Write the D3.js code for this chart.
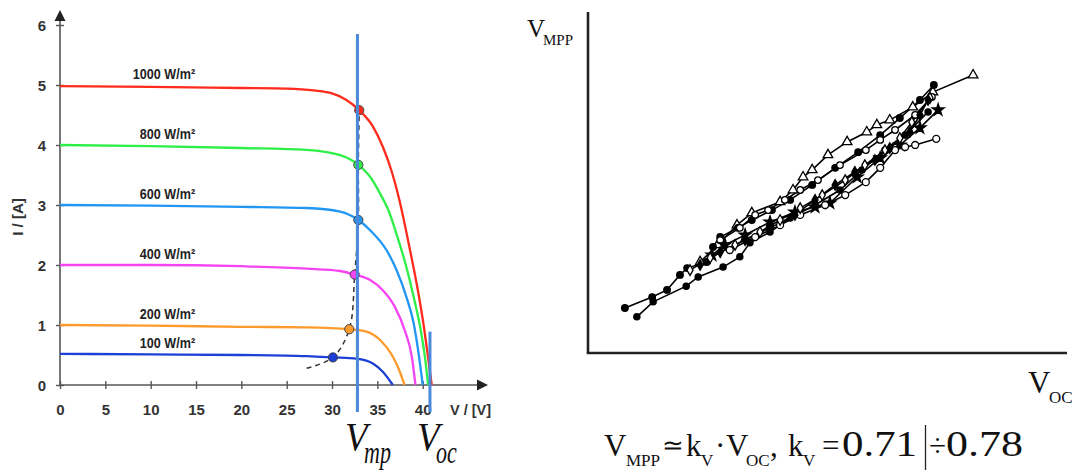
<!DOCTYPE html>
<html>
<head>
<meta charset="utf-8">
<script src="https://cdn.jsdelivr.net/npm/d3@7"></script>
<style>
  body { margin: 0; background: #fff; }
  svg { display: block; }
</style>
</head>
<body>
<svg id="chart" width="1072" height="470"></svg>
<script>
// ---------- I–V characteristic data (voltage in V, current in A) ----------
const irradianceLabels = ["1000 W/m²", "800 W/m²", "600 W/m²", "400 W/m²", "200 W/m²", "100 W/m²"];
const curveColors = ["#ff2b1c", "#2eef48", "#2196f3", "#f544f2", "#ff9a2c", "#1c3fd6"];
const shortCircuitI = [5.0, 4.0, 3.0, 2.0, 1.0, 0.52];

const v1000 = [0, 10, 20, 25, 28, 30, 31.5, 33.0, 34.5, 35.6, 36.6, 37.4, 38.1, 38.8, 39.5, 40.1, 40.6, 41.0];
const i1000 = [4.98, 4.97, 4.95, 4.94, 4.91, 4.86, 4.76, 4.58, 4.31, 3.97, 3.55, 3.10, 2.62, 2.10, 1.55, 1.00, 0.45, 0];
const v800  = [0, 10, 20, 27.2, 30.9, 32.9, 34.2, 35.3, 36.2, 37.1, 38.1, 39.0, 39.8, 40.3, 40.6];
const i800  = [4.0, 3.98, 3.95, 3.92, 3.83, 3.67, 3.47, 3.19, 2.92, 2.52, 2.02, 1.47, 0.90, 0.40, 0];
const v600  = [0, 10, 20, 27.2, 30.9, 32.9, 34.2, 36.0, 37.1, 38.2, 39.0, 39.6, 40.0];
const i600  = [3.0, 2.99, 2.97, 2.95, 2.89, 2.75, 2.58, 2.25, 1.92, 1.47, 1.03, 0.47, 0];
const v400  = [0, 10, 20, 27.2, 30.9, 32.5, 34.2, 35.6, 36.9, 38.0, 38.8, 39.2];
const i400  = [2.0, 2.0, 1.98, 1.94, 1.90, 1.84, 1.75, 1.58, 1.31, 0.92, 0.47, 0];
const v200  = [0, 10, 20, 27.2, 31.9, 33.8, 35.3, 36.6, 37.4, 38.0];
const i200  = [1.0, 0.99, 0.97, 0.96, 0.93, 0.89, 0.75, 0.50, 0.25, 0];
const v100  = [0, 10, 20, 27.2, 30.1, 32.7, 34.5, 35.6, 36.7];
const i100  = [0.52, 0.51, 0.50, 0.48, 0.46, 0.44, 0.36, 0.22, 0];

// maximum power points and the dashed locus through them
const mppV = [33.0, 32.9, 32.9, 32.5, 31.9, 30.1];
const mppI = [4.58, 3.67, 2.75, 1.84, 0.93, 0.46];
const locusV = [27.2, 30.1, 31.9, 32.5, 32.9, 32.9, 33.0];
const locusI = [0.28, 0.46, 0.93, 1.84, 2.75, 3.67, 4.58];

const xTicks = [0, 5, 10, 15, 20, 25, 30, 35, 40];
const yTicks = [0, 1, 2, 3, 4, 5, 6];
const vmpVolts = 32.8;
const vocVolts = 40.8;

// ---------- V_MPP versus V_OC tracks (relative units) ----------
const trackA_voc  = [23.4, 27.1, 31.1, 34.2, 40.1, 42.8, 44.9, 46.8, 50.1, 54.1, 58.2, 60.3, 63.0, 67.8, 72.0, 80.4];
const trackA_vmpp = [26.7, 31.7, 37.5, 41.1, 44.3, 47.8, 51.6, 53.7, 58.1, 61.9, 64.8, 66.9, 68.3, 72.1, 76.5, 81.5];
const trackB_voc  = [7.7, 13.4, 16.5, 19.2, 20.7, 24.8, 26.1, 27.6, 31.3, 34.2, 38.4, 42.2, 46.8, 51.6, 56.4, 61.0, 65.1, 69.3, 72.2];
const trackB_vmpp = [13.2, 16.4, 18.5, 22.9, 24.9, 26.7, 31.1, 34.0, 36.7, 39.0, 41.9, 44.9, 49.3, 54.3, 58.9, 63.9, 68.9, 74.2, 78.6];
const trackC_voc  = [10.2, 13.6, 20.5, 23.0, 28.2, 31.7, 33.8, 38.0, 42.2, 47.4, 52.6, 57.2, 62.0, 66.2, 71.0];
const trackC_vmpp = [10.6, 15.0, 19.6, 22.3, 25.2, 28.2, 32.3, 35.5, 39.6, 43.4, 47.8, 53.7, 59.5, 63.9, 70.7];
const trackD_voc  = [27.6, 31.7, 34.9, 37.6, 41.1, 44.3, 48.0, 52.6, 58.0, 61.0, 64.1, 68.3, 71.8];
const trackD_vmpp = [33.1, 36.7, 40.5, 41.9, 44.9, 47.8, 50.7, 55.1, 59.5, 62.5, 65.4, 69.8, 75.1];
const trackE_voc  = [25.9, 28.6, 32.8, 38.0, 43.2, 47.4, 50.5, 56.2, 61.0, 65.1, 69.3, 73.1];
const trackE_vmpp = [28.7, 31.7, 34.6, 38.4, 41.3, 42.8, 44.0, 51.6, 57.2, 61.0, 66.0, 71.3];
const trackF_voc  = [29.6, 34.9, 40.1, 44.3, 49.5, 53.7, 58.0, 61.0, 64.1, 66.2, 68.3, 72.7];
const trackF_vmpp = [30.2, 34.0, 37.5, 40.5, 43.4, 46.3, 50.1, 54.3, 59.5, 60.4, 61.0, 62.8];
const trackG_voc  = [21.3, 25.5, 30.7, 35.9, 40.1, 44.3, 48.9, 53.7, 57.8, 62.0, 65.1, 67.6, 71.4];
const trackG_vmpp = [24.3, 27.9, 31.7, 35.5, 39.0, 42.5, 46.3, 50.7, 55.1, 59.5, 63.0, 67.7, 74.8];
const trackH_voc  = [23.4, 27.6, 32.8, 38.0, 43.2, 47.4, 51.6, 55.7, 59.9, 63.0, 67.2, 69.3, 71.0];
const trackH_vmpp = [25.8, 29.6, 33.1, 36.7, 40.5, 44.9, 49.3, 53.1, 56.6, 60.1, 64.8, 69.8, 74.2];

const svg = d3.select("#chart");
const zip = (a, b) => a.map((v, k) => [v, b[k]]);

// ====================== left: I–V curves ======================
const xL = d3.scaleLinear().domain([0, 47.2]).range([60, 488]);
const yL = d3.scaleLinear().domain([0, 6.25]).range([385, 10]);
const axisColor = "#555";
const sans = "'Liberation Sans', Arial, sans-serif";
const textGrey = "#333";

const left = svg.append("g");

// x axis
const gx = left.append("g").attr("transform", `translate(0,${yL(0)})`)
  .call(d3.axisBottom(xL).tickValues(xTicks).tickSize(0).tickPadding(0).tickFormat(d3.format("d")));
gx.select(".domain").remove();
gx.selectAll(".tick text").attr("y", 30).attr("dy", 0)
  .style("font-family", sans).style("font-weight", "bold").style("font-size", "15px").attr("fill", textGrey);
gx.selectAll(".tick").append("line").attr("y1", -4).attr("y2", 4)
  .attr("stroke", axisColor).attr("stroke-width", 1.4);
left.append("line").attr("x1", xL(0)).attr("x2", xL(46)).attr("y1", yL(0)).attr("y2", yL(0))
  .attr("stroke", axisColor).attr("stroke-width", 1.6);
left.append("path")
  .attr("d", `M${xL(47.2)},${yL(0)} L${xL(47.2) - 11},${yL(0) - 5.5} L${xL(47.2) - 11},${yL(0) + 5.5} Z`)
  .attr("fill", "#222");

// y axis
const gy = left.append("g").attr("transform", `translate(${xL(0)},0)`)
  .call(d3.axisLeft(yL).tickValues(yTicks).tickSize(0).tickPadding(0).tickFormat(d3.format("d")));
gy.select(".domain").remove();
gy.selectAll(".tick text").attr("x", -14).attr("dy", "0.36em")
  .style("font-family", sans).style("font-weight", "bold").style("font-size", "15px").attr("fill", textGrey);
gy.selectAll(".tick").append("line").attr("x1", -4).attr("x2", 4)
  .attr("stroke", axisColor).attr("stroke-width", 1.4);
left.append("line").attr("x1", xL(0)).attr("x2", xL(0)).attr("y1", yL(0)).attr("y2", yL(6.1))
  .attr("stroke", axisColor).attr("stroke-width", 1.6);
left.append("path")
  .attr("d", `M${xL(0)},${yL(6.25)} L${xL(0) - 5.5},${yL(6.25) + 11} L${xL(0) + 5.5},${yL(6.25) + 11} Z`)
  .attr("fill", "#222");

// axis titles
left.append("text").attr("transform", `translate(23,${yL(2.8)}) rotate(-90)`)
  .attr("text-anchor", "middle").style("font-family", sans).style("font-weight", "bold")
  .style("font-size", "15px").attr("fill", textGrey).text("I / [A]");
left.append("text").attr("x", 450).attr("y", 415)
  .style("font-family", sans).style("font-weight", "bold")
  .style("font-size", "14.5px").attr("fill", textGrey).text("V / [V]");

// curves
const curveSets = [zip(v1000, i1000), zip(v800, i800), zip(v600, i600), zip(v400, i400), zip(v200, i200), zip(v100, i100)];
const ivLine = d3.line().x(d => xL(d[0])).y(d => yL(d[1])).curve(d3.curveMonotoneX);
left.append("g").selectAll("path").data(curveSets).join("path")
  .attr("d", ivLine).attr("fill", "none")
  .attr("stroke", (d, k) => curveColors[k]).attr("stroke-width", 2.3);

// irradiance labels (condensed bold face)
left.append("g").selectAll("text").data(irradianceLabels).join("text")
  .attr("transform", (d, k) => `translate(${xL(14.9)},${yL(shortCircuitI[k]) - 6}) scale(0.84,1)`)
  .attr("text-anchor", "end").style("font-family", sans).style("font-weight", "bold")
  .style("font-size", "15px").attr("fill", "#222").text(d => d);

// dashed MPP locus
left.append("path").datum(zip(locusV, locusI))
  .attr("d", d3.line().x(d => xL(d[0])).y(d => yL(d[1])).curve(d3.curveCatmullRom))
  .attr("fill", "none").attr("stroke", "#333").attr("stroke-width", 1.5).attr("stroke-dasharray", "5,4");

// MPP dots
left.append("g").selectAll("circle").data(zip(mppV, mppI)).join("circle")
  .attr("cx", d => xL(d[0])).attr("cy", d => yL(d[1])).attr("r", 4.6)
  .attr("fill", (d, k) => curveColors[k]).attr("stroke", "#444").attr("stroke-width", 1);

// V_mp and V_oc markers
const markerBlue = "#4a88da";
left.append("line").attr("x1", xL(vmpVolts)).attr("x2", xL(vmpVolts))
  .attr("y1", yL(5.85)).attr("y2", yL(-0.45)).attr("stroke", markerBlue).attr("stroke-width", 3);
left.append("line").attr("x1", xL(vocVolts)).attr("x2", xL(vocVolts))
  .attr("y1", yL(0.89)).attr("y2", yL(-0.45)).attr("stroke", markerBlue).attr("stroke-width", 3);

const serif = "'Liberation Serif', 'Times New Roman', serif";
function italicLabel(x, main, sub) {
  left.append("text").attr("transform", `translate(${x},450) scale(1,1.1)`)
    .style("font-family", serif).style("font-style", "italic").style("font-size", "37px")
    .attr("fill", "#111").text(main);
  left.append("text").attr("transform", `translate(${x + 19},463) scale(1,1.45)`)
    .style("font-family", serif).style("font-style", "italic").style("font-size", "22px")
    .attr("fill", "#111").text(sub);
}
italicLabel(345, "V", "mp");
italicLabel(417, "V", "oc");

// ====================== right: V_MPP vs V_OC ======================
const xR = d3.scaleLinear().domain([0, 100]).range([588, 1067]);
const yR = d3.scaleLinear().domain([0, 100]).range([353, 12]);
const right = svg.append("g");

const tracks = [
  { pts: zip(trackA_voc, trackA_vmpp), type: d3.symbolTriangle, filled: false, size: 40 },
  { pts: zip(trackB_voc, trackB_vmpp), type: d3.symbolCircle,   filled: true,  size: 34 },
  { pts: zip(trackC_voc, trackC_vmpp), type: d3.symbolCircle,   filled: true,  size: 30 },
  { pts: zip(trackD_voc, trackD_vmpp), type: d3.symbolCircle,   filled: false, size: 34 },
  { pts: zip(trackE_voc, trackE_vmpp), type: d3.symbolStar,     filled: true,  size: 44 },
  { pts: zip(trackF_voc, trackF_vmpp), type: d3.symbolCircle,   filled: false, size: 38 },
  { pts: zip(trackG_voc, trackG_vmpp), type: d3.symbolDiamond,  filled: false, size: 32 },
  { pts: zip(trackH_voc, trackH_vmpp), type: d3.symbolDiamond,  filled: true,  size: 32 }
];

const rLine = d3.line().x(d => xR(d[0])).y(d => yR(d[1]));
right.append("g").selectAll("path").data(tracks).join("path")
  .attr("d", t => rLine(t.pts)).attr("fill", "none")
  .attr("stroke", "#000").attr("stroke-width", 1.6);

tracks.forEach(t => {
  right.append("g").selectAll("path").data(t.pts).join("path")
    .attr("transform", d => `translate(${xR(d[0])},${yR(d[1])})`)
    .attr("d", d3.symbol().type(t.type).size(t.size))
    .attr("fill", t.filled ? "#000" : "#fff")
    .attr("stroke", "#000").attr("stroke-width", 1.3);
});

// axes
right.append("line").attr("x1", xR(0)).attr("x2", xR(0)).attr("y1", yR(100)).attr("y2", yR(0))
  .attr("stroke", "#222").attr("stroke-width", 2.6);
right.append("line").attr("x1", xR(0) - 1.3).attr("x2", xR(100)).attr("y1", yR(0)).attr("y2", yR(0))
  .attr("stroke", "#222").attr("stroke-width", 2.6);

// axis names
const vmppLabel = right.append("text").style("font-family", serif).attr("fill", "#111");
vmppLabel.append("tspan").attr("x", 527).attr("y", 37).style("font-size", "25px").text("V");
vmppLabel.append("tspan").attr("x", 543).attr("y", 45).style("font-size", "15px").text("MPP");
const vocLabel = right.append("text").style("font-family", serif).attr("fill", "#111");
vocLabel.append("tspan").attr("x", 1028).attr("y", 393).style("font-size", "31px").text("V");
vocLabel.append("tspan").attr("x", 1049).attr("y", 403).style("font-size", "17px").text("OC");

// relation between V_MPP and V_OC
const formula = right.append("text").style("font-family", serif).attr("fill", "#111");
const piece = (x, y, size, txt) => formula.append("tspan").attr("x", x).attr("y", y).style("font-size", size + "px").text(txt);
const base = 456, subBase = 466;
piece(604, base, 31, "V");
piece(626, subBase, 17, "MPP");
piece(662, base - 2, 26, "≃");
piece(686, base, 31, "k");
piece(701, subBase, 17, "V");
piece(715, base, 31, "·");
piece(726, base, 31, "V");
piece(746, subBase, 17, "OC");
piece(770, base, 31, ",");
piece(788, base, 31, "k");
piece(803, subBase, 17, "V");
piece(822, base, 31, "=");
piece(842, base, 35, "0.71").attr("textLength", 75).attr("lengthAdjust", "spacingAndGlyphs");
piece(929, base, 31, "÷");
piece(946, base, 35, "0.78").attr("textLength", 77).attr("lengthAdjust", "spacingAndGlyphs");
right.append("line").attr("x1", 925.5).attr("x2", 925.5).attr("y1", 425).attr("y2", 470)
  .attr("stroke", "#222").attr("stroke-width", 1.3);
</script>
</body>
</html>
